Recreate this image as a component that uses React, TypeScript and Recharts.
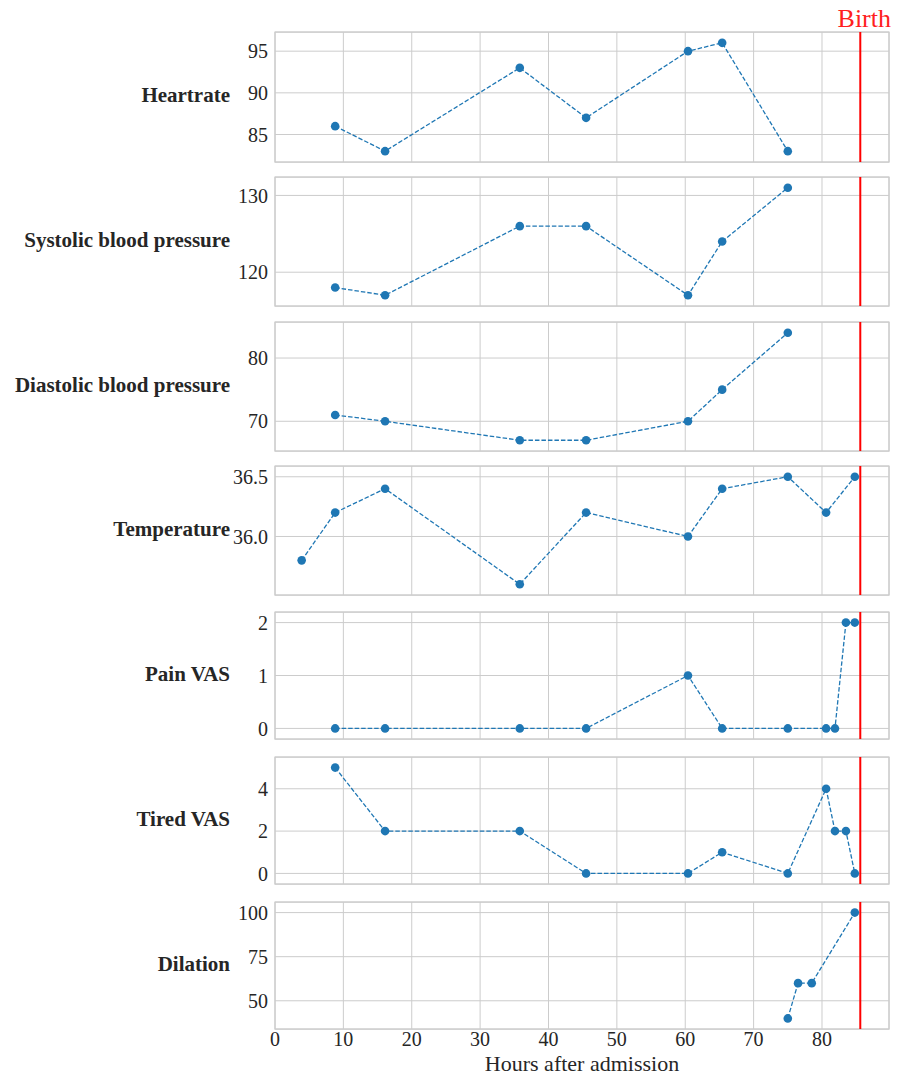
import {
  CartesianGrid,
  Line,
  LineChart,
  ReferenceArea,
  ReferenceLine,
  XAxis,
  YAxis,
} from "recharts"

// hours after admission for each series
const vitalHours = [8.8, 16.1, 35.8, 45.5, 60.4, 65.4, 75.0]
const tempHours = [3.9, 8.8, 16.1, 35.8, 45.5, 60.4, 65.4, 75.0, 80.6, 84.8]
const vasHours = [8.8, 16.1, 35.8, 45.5, 60.4, 65.4, 75.0, 80.6, 81.9, 83.5, 84.8]
const dilationHours = [75.0, 76.5, 78.5, 84.8]

const heartrate = [86, 83, 93, 87, 95, 96, 83]
const systolic = [118, 117, 126, 126, 117, 124, 131]
const diastolic = [71, 70, 67, 67, 70, 75, 84]
const temperature = [35.8, 36.2, 36.4, 35.6, 36.2, 36.0, 36.4, 36.5, 36.2, 36.5]
const painVas = [0, 0, 0, 0, 1, 0, 0, 0, 0, 2, 2]
const tiredVas = [5, 2, 2, 0, 0, 1, 0, 4, 2, 2, 0]
const dilation = [40, 60, 60, 100]

const birthHour = 85.6
const xTicks = [0, 10, 20, 30, 40, 50, 60, 70, 80]
const xMax = 89.8

const heartrateTicks = [85, 90, 95]
const systolicTicks = [120, 130]
const diastolicTicks = [70, 80]
const temperatureTicks = [36.0, 36.5]
const painTicks = [0, 1, 2]
const tiredTicks = [0, 2, 4]
const dilationTicks = [50, 75, 100]

const zip = (xs: number[], ys: number[]) => xs.map((x, i) => ({ x, v: ys[i] }))

const panels = [
  { name: "Heartrate", data: zip(vitalHours, heartrate), ticks: heartrateTicks, domain: [81.7, 97.3], top: 32, h: 130 },
  { name: "Systolic blood pressure", data: zip(vitalHours, systolic), ticks: systolicTicks, domain: [115.6, 132.4], top: 177, h: 129 },
  { name: "Diastolic blood pressure", data: zip(vitalHours, diastolic), ticks: diastolicTicks, domain: [65.3, 85.7], top: 322, h: 129 },
  { name: "Temperature", data: zip(tempHours, temperature), ticks: temperatureTicks, domain: [35.51, 36.59], top: 466, h: 129, fmt: (v: number) => v.toFixed(1) },
  { name: "Pain VAS", data: zip(vasHours, painVas), ticks: painTicks, domain: [-0.2, 2.2], top: 612, h: 127 },
  { name: "Tired VAS", data: zip(vasHours, tiredVas), ticks: tiredTicks, domain: [-0.5, 5.5], top: 757, h: 127 },
  { name: "Dilation", data: zip(dilationHours, dilation), ticks: dilationTicks, domain: [34, 106], top: 902, h: 127 },
]

const serif = "Liberation Serif, Times New Roman, serif"
const textColor = "#262626"
const gridColor = "#cccccc"

function Panel({ p, index }: { p: (typeof panels)[number]; index: number }) {
  const first = index === 0
  const last = index === panels.length - 1
  const mt = first ? 32 : 6
  const axisH = last ? 51 : 0
  const mb = last ? 0 : 6
  return (
    <div style={{ position: "absolute", left: 0, top: p.top - mt }}>
      <LineChart
        width={897}
        height={mt + p.h + mb + axisH}
        data={p.data}
        margin={{ top: mt, right: 8, bottom: mb, left: 0 }}
      >
        <CartesianGrid stroke={gridColor} strokeWidth={1} />
        <XAxis
          dataKey="x"
          type="number"
          domain={[0, xMax]}
          ticks={xTicks}
          allowDataOverflow
          height={axisH}
          tick={last ? { fontSize: 20, fontFamily: serif, fill: textColor } : () => <g />}
          tickLine={false}
          axisLine={false}
          tickSize={0}
          tickMargin={3}
          label={
            last
              ? { value: "Hours after admission", position: "insideBottom", offset: 9, fontSize: 22, fontFamily: serif, fill: textColor }
              : undefined
          }
        />
        <YAxis
          type="number"
          domain={p.domain}
          ticks={p.ticks}
          allowDataOverflow
          width={275}
          tick={{ fontSize: 20, fontFamily: serif, fill: textColor }}
          tickFormatter={p.fmt}
          tickLine={false}
          axisLine={false}
          tickSize={0}
          tickMargin={7}
          label={{
            value: p.name,
            position: "insideRight",
            offset: 45,
            dy: -2,
            fontSize: 21,
            fontWeight: "bold",
            fontFamily: serif,
            fill: textColor,
          }}
        />
        <ReferenceArea
          x1={0}
          x2={xMax}
          y1={p.domain[0]}
          y2={p.domain[1]}
          fill="none"
          stroke={gridColor}
          strokeWidth={1.25}
        />
        <ReferenceLine
          x={birthHour}
          stroke="#ff0000"
          strokeWidth={2}
          label={
            first
              ? { value: "Birth", position: "top", offset: 5, dx: 4, fontSize: 26, fontFamily: serif, fill: "#ff2020" }
              : undefined
          }
        />
        <Line
          type="linear"
          dataKey="v"
          stroke="#1f77b4"
          strokeWidth={1.3}
          strokeDasharray="4.5 2"
          dot={{ r: 4.3, fill: "#1f77b4", stroke: "none" }}
          activeDot={false}
          isAnimationActive={false}
        />
      </LineChart>
    </div>
  )
}

export default function App() {
  return (
    <div style={{ position: "absolute", left: 0, top: 0, width: 897, height: 1080, background: "#fff" }}>
      {panels.map((p, i) => (
        <Panel key={p.name} p={p} index={i} />
      ))}
    </div>
  )
}
